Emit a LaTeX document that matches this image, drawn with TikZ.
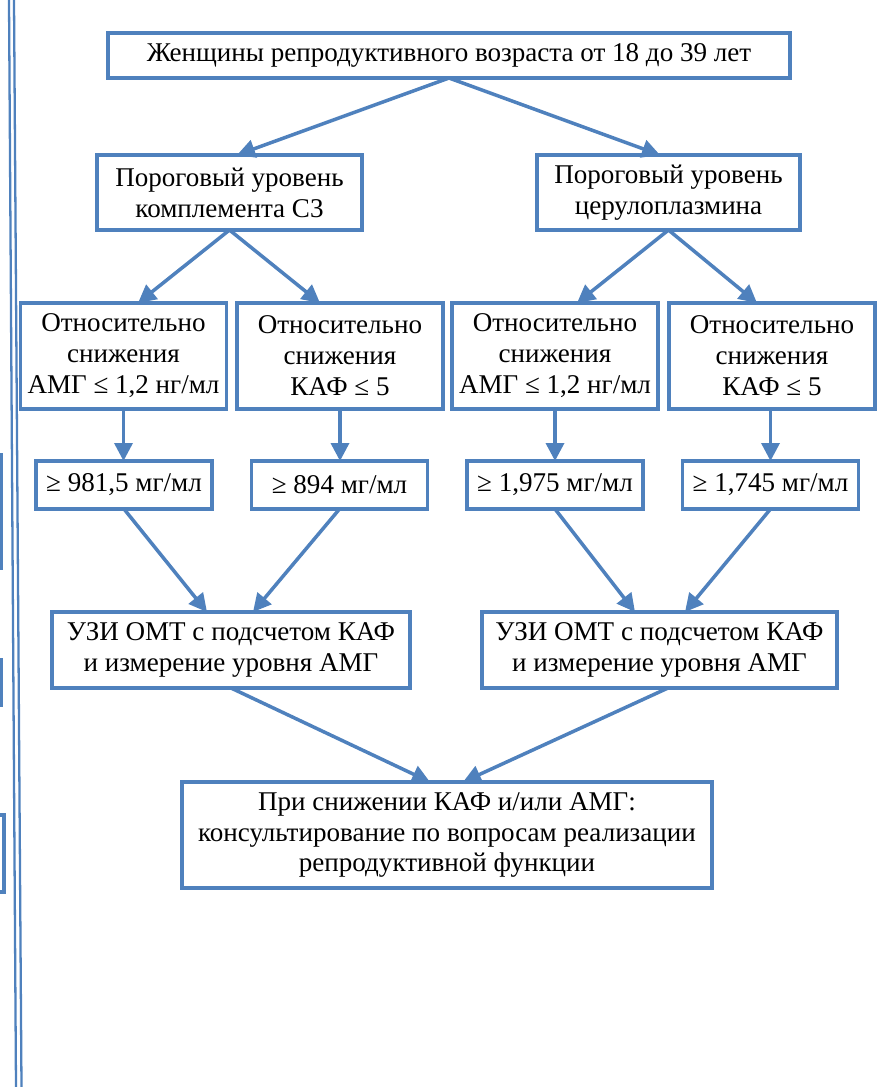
\documentclass[tikz,border=0pt]{standalone}
\usepackage{fontspec}
\setmainfont{Liberation Serif}
\usetikzlibrary{positioning, calc, arrows.meta}
\definecolor{boxblue}{RGB}{79,129,189}

\begin{document}
\begin{tikzpicture}
    % Stili per i blocchi e le frecce
    \tikzset{
        flow_box/.style={
            draw=boxblue, % Bordo visibile
            text=black,
            fill=white, % Sfondo
            line width=2pt,
            minimum width=4.12cm, % Larghezza minima del blocco
            minimum height=2.12cm, % Altezza minima del blocco
            align=center, % Allineamento centrale del testo
            font=\fontsize{15.4}{17.6}\selectfont, % Dimensione del font
            outer sep=0pt, % Rimuove spazio extra intorno al nodo
            inner sep=0.2em % Piccolo spazio interno per il testo
        },
        value_box/.style={
            flow_box,
            minimum width=3.52cm,
            minimum height=0.96cm
        },
        flow_arrow/.style={
            draw=boxblue,
            line width=2pt,
            -{Triangle[length=0.36cm,width=0.36cm]}
        }
    }

    \useasboundingbox (0,0) rectangle (17.66,-21.74);

    % Bordo della pagina a sinistra
    \draw[boxblue, line width=1.3pt] (0.18,0) -- (0.32,-21.74);
    \draw[boxblue, line width=1.3pt] (0.28,0) -- (0.43,-21.74);
    \draw[boxblue, line width=2pt] (-0.2,-9.1) -- (0.03,-9.1) -- (0.03,-11.4);
    \draw[boxblue, line width=2.6pt] (0.02,-13.16) -- (0.02,-14.14);
    \draw[boxblue, line width=2pt] (-0.2,-16.3) -- (0.08,-16.3) -- (0.08,-17.84) -- (-0.2,-17.84);

    % Blocco iniziale
    \node[flow_box, minimum width=13.64cm, minimum height=0.9cm] (women) at (8.98,-1.11) {Женщины репродуктивного возраста от 18 до 39 лет};

    % Livelli soglia
    \node[flow_box, minimum width=5.3cm, minimum height=1.5cm] (c3_level) at (4.59,-3.85) {Пороговый уровень\\комплемента С3};
    \node[flow_box, minimum width=5.26cm, minimum height=1.5cm] (cp_level) at (13.37,-3.85) {Пороговый уровень\\церулоплазмина};

    % Riduzione relativa
    \node[flow_box] (c3_amh) at (2.47,-7.12) {Относительно\\снижения\\АМГ ≤ 1,2 нг/мл};
    \node[flow_box] (c3_afc) at (6.80,-7.12) {Относительно\\снижения\\КАФ ≤ 5};
    \node[flow_box] (cp_amh) at (11.10,-7.12) {Относительно\\снижения\\АМГ ≤ 1,2 нг/мл};
    \node[flow_box] (cp_afc) at (15.44,-7.12) {Относительно\\снижения\\КАФ ≤ 5};

    % Valori
    \node[value_box] (c3_amh_val) at (2.48,-9.70) {≥ 981,5 мг/мл};
    \node[value_box] (c3_afc_val) at (6.79,-9.70) {≥ 894 мг/мл};
    \node[value_box] (cp_amh_val) at (11.10,-9.70) {≥ 1,975 мг/мл};
    \node[value_box] (cp_afc_val) at (15.41,-9.70) {≥ 1,745 мг/мл};

    % Esami
    \node[flow_box, minimum width=7.16cm, minimum height=1.52cm] (c3_us) at (4.62,-13.0) {УЗИ ОМТ с подсчетом КАФ\\и измерение уровня АМГ};
    \node[flow_box, minimum width=7.1cm, minimum height=1.52cm] (cp_us) at (13.19,-13.0) {УЗИ ОМТ с подсчетом КАФ\\и измерение уровня АМГ};

    % Blocco finale
    \node[flow_box, minimum width=10.6cm] (advice) at (8.94,-16.70) {При снижении КАФ и/или АМГ:\\консультирование по вопросам реализации\\репродуктивной функции};

    % Collego il blocco iniziale ai livelli soglia
    \draw[flow_arrow] (women.south) -- ([xshift=0.15cm]c3_level.north);
    \draw[flow_arrow] (women.south) -- ([xshift=-0.17cm]cp_level.north);

    % Collego i livelli soglia alle riduzioni
    \draw[flow_arrow] (c3_level.south) -- ([xshift=0.29cm]c3_amh.north);
    \draw[flow_arrow] (c3_level.south) -- ([xshift=-0.40cm]c3_afc.north);
    \draw[flow_arrow] (cp_level.south) -- ([xshift=0.44cm]cp_amh.north);
    \draw[flow_arrow] (cp_level.south) -- ([xshift=-0.30cm]cp_afc.north);

    % Riduzioni verso i valori
    \draw[flow_arrow] (c3_amh.south) -- (c3_amh.south |- c3_amh_val.north);
    \draw[flow_arrow] (c3_afc.south) -- (c3_afc.south |- c3_afc_val.north);
    \draw[flow_arrow] (cp_amh.south) -- (cp_amh.south |- cp_amh_val.north);
    \draw[flow_arrow] (cp_afc_val.north |- cp_afc.south) -- (cp_afc_val.north);

    % Valori verso gli esami
    \draw[flow_arrow] (c3_amh_val.south) -- ([xshift=-0.48cm]c3_us.north);
    \draw[flow_arrow] (c3_afc_val.south) -- ([xshift=0.44cm]c3_us.north);
    \draw[flow_arrow] (cp_amh_val.south) -- ([xshift=-0.49cm]cp_us.north);
    \draw[flow_arrow] (cp_afc_val.south) -- ([xshift=0.51cm]cp_us.north);

    % Esami verso il blocco finale
    \draw[flow_arrow] (c3_us.south) -- ([xshift=-0.34cm]advice.north);
    \draw[flow_arrow] ([xshift=0.17cm]cp_us.south) -- ([xshift=0.32cm]advice.north);

\end{tikzpicture}
\end{document}
